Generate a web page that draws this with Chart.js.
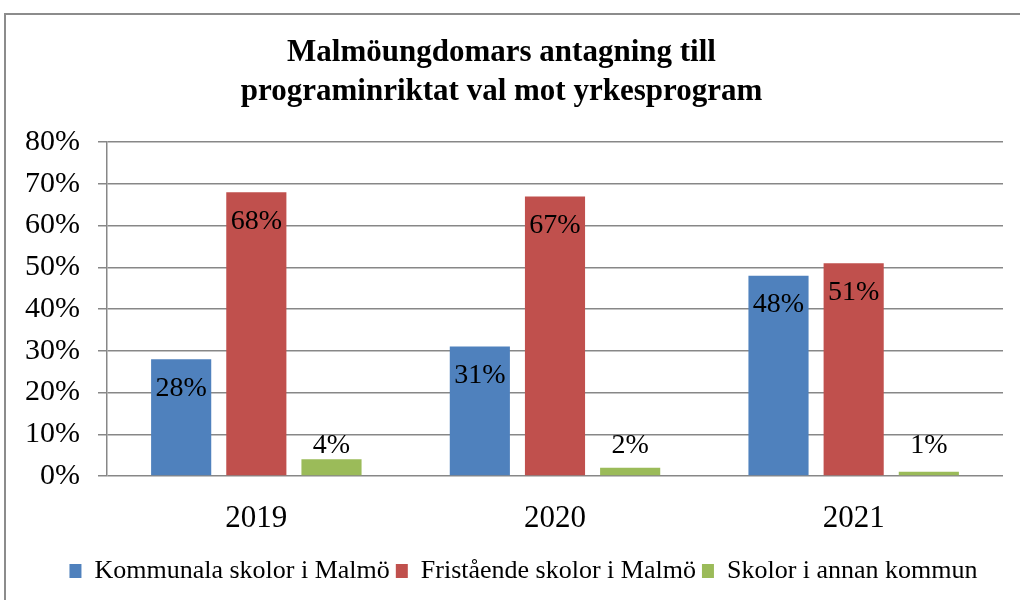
<!DOCTYPE html>
<html>
<head>
<meta charset="utf-8">
<script src="https://cdn.jsdelivr.net/npm/chart.js@4"></script>
<style>
  html, body { margin: 0; padding: 0; background: #fff; }
  canvas { display: block; }
</style>
</head>
<body>
<canvas id="chart" width="1020" height="600"></canvas>
<script>
// Data (percent)
const years = ["2019", "2020", "2021"];
const kommunala = [28, 31, 48];
const fristaende = [68, 67, 51];
const annanKommun = [4, 2, 1];
const yTicks = [0, 10, 20, 30, 40, 50, 60, 70, 80];

const serif = "'Liberation Serif', 'DejaVu Serif', serif";
const gridGray = "#878787";

// Frame around the whole chart, legend nudged right like the original
const framePlugin = {
    id: "frame",
    afterLayout(chart) {
        chart.legend.left += 22;
        chart.legend.right += 22;
    },
    beforeDraw(chart) {
        const ctx = chart.ctx;
        ctx.save();
        ctx.fillStyle = "#fff";
        ctx.fillRect(0, 0, chart.width, chart.height);
        ctx.strokeStyle = "#8c8c8c";
        ctx.lineWidth = 2;
        ctx.strokeRect(5, 14, 1040, 700);
        ctx.restore();
    }
};

// Value labels: inside top for the tall bars, above for the small green ones
const labelPlugin = {
    id: "valueLabels",
    afterDatasetsDraw(chart) {
        const ctx = chart.ctx;
        const yScale = chart.scales.y;
        ctx.save();
        ctx.font = "28px " + serif;
        ctx.fillStyle = "#000";
        ctx.textAlign = "center";
        ctx.textBaseline = "middle";
        chart.data.datasets.forEach((ds, i) => {
            chart.getDatasetMeta(i).data.forEach((bar, j) => {
                const txt = ds.data[j] + "%";
                let y;
                if (i === 2) y = yScale.getPixelForValue(7.3);
                else y = bar.y + 29;
                ctx.fillText(txt, bar.x, y);
            });
        });
        ctx.restore();
    }
};

new Chart(document.getElementById("chart"), {
    type: "bar",
    data: {
        labels: years,
        datasets: [
            { label: "Kommunala skolor i Malmö", data: kommunala, backgroundColor: "#4F81BD" },
            { label: "Fristående skolor i Malmö", data: fristaende, backgroundColor: "#C0504D" },
            { label: "Skolor i annan kommun", data: annanKommun, backgroundColor: "#9BBB59" }
        ]
    },
    options: {
        responsive: false,
        animation: false,
        categoryPercentage: 0.755,
        barPercentage: 0.8,
        layout: { padding: { left: 0, right: 17, top: 0, bottom: 6 } },
        plugins: {
            tooltip: { enabled: false },
            title: {
                display: true,
                text: ["Malmöungdomars antagning till", "programinriktat val mot yrkesprogram"],
                color: "#000",
                font: { family: serif, size: 31, weight: "bold", lineHeight: 1.26 },
                padding: { top: 33, bottom: 31 }
            },
            legend: {
                position: "bottom",
                labels: {
                    color: "#000",
                    font: { family: serif, size: 26 },
                    boxWidth: 12,
                    boxHeight: 14,
                    padding: 6
                }
            }
        },
        scales: {
            x: {
                grid: { display: false },
                border: { display: false },
                ticks: { color: "#000", font: { family: serif, size: 31 }, padding: 16 },
                afterFit(scale) { scale.height = 76; }
            },
            y: {
                min: 0,
                max: 80,
                afterBuildTicks(scale) { scale.ticks = yTicks.map(v => ({ value: v })); },
                ticks: {
                    color: "#000",
                    font: { family: serif, size: 30 },
                    padding: 18,
                    callback: v => v + "%"
                },
                grid: { color: gridGray, lineWidth: 1.5, tickLength: 9 },
                border: { display: true, color: gridGray, width: 1.5 },
                afterFit(scale) { scale.width = 107; }
            }
        }
    },
    plugins: [framePlugin, labelPlugin]
});
</script>
</body>
</html>
